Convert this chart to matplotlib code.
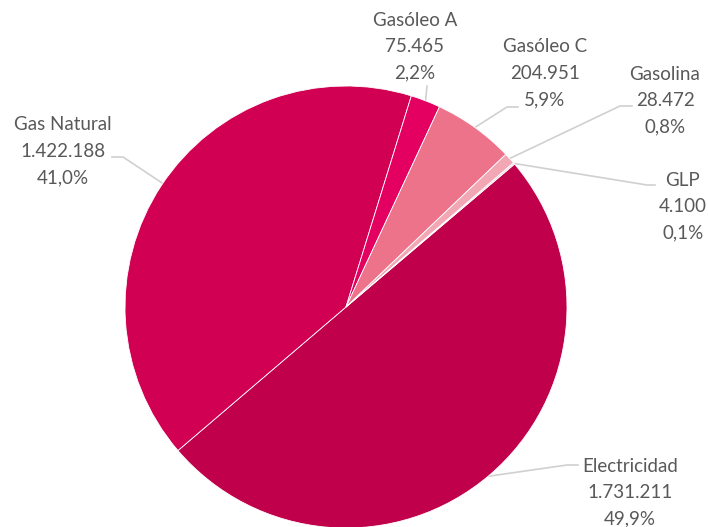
import numpy as np
import matplotlib.pyplot as plt

plt.rcParams['font.family'] = ['Lato', 'DejaVu Sans']

categorias = ['Electricidad', 'Gas Natural', 'Gasóleo A', 'Gasóleo C', 'Gasolina', 'GLP']
consumo = [1731211, 1422188, 75465, 204951, 28472, 4100]
etiquetas_valor = ['1.731.211', '1.422.188', '75.465', '204.951', '28.472', '4.100']
etiquetas_pct = ['49,9%', '41,0%', '2,2%', '5,9%', '0,8%', '0,1%']
colores = ['#C0004A', '#D20052', '#E30060', '#EC7389', '#F1A8B4', '#F6CDD4']

# figure in pixel units: 708 x 527
fig = plt.figure(figsize=(7.08, 5.27), dpi=100)
ax = fig.add_axes([0, 0, 1, 1])

cx, cy, r = 346, 220, 221
wedges, _ = ax.pie(consumo, colors=colores, startangle=40.3, counterclock=False,
                   radius=r, center=(cx, cy), frame=True,
                   wedgeprops=dict(edgecolor='white', linewidth=0.6))
ax.set_xlim(0, 708)
ax.set_ylim(0, 527)
ax.set_aspect('equal')
ax.axis('off')

# label text centres (x, y of first line, px from top)
pos_texto = {
    'Electricidad': (630, 466),
    'Gas Natural': (63, 125),
    'Gasóleo A': (415, 20),
    'Gasóleo C': (545, 47),
    'Gasolina': (665, 74),
    'GLP': (683, 180),
}
# leader line elbows (px from top)
codos = {
    'Electricidad': [(567, 465), (578, 465)],
    'Gas Natural': [(123, 157), (112, 157)],
    'Gasóleo A': [(427, 86)],
    'Gasóleo C': [(507, 107), (518, 107)],
    'Gasolina': [(620, 106), (632, 106)],
    'GLP': [(647, 185), (655, 185)],
}
# where the leader touches the pie (degrees), default = middle of the slice
ang_lider = {'Electricidad': -50, 'Gas Natural': 146}

gris_linea = '#D0D0D0'
for w, cat, val, pct in zip(wedges, categorias, etiquetas_valor, etiquetas_pct):
    tx, ty = pos_texto[cat]
    for i, linea in enumerate([cat, val, pct]):
        ax.text(tx, 527 - (ty + 26.5 * i), linea, ha='center', va='center',
                fontsize=13.5, color='#595959')
    a = ang_lider.get(cat, (w.theta1 + w.theta2) / 2)
    a = np.deg2rad(a)
    xs = [cx + r * np.cos(a)] + [p[0] for p in codos[cat]]
    ys = [cy + r * np.sin(a)] + [527 - p[1] for p in codos[cat]]
    ax.plot(xs, ys, color=gris_linea, lw=1.2, zorder=0)

fig.savefig('out.png', dpi=100)
